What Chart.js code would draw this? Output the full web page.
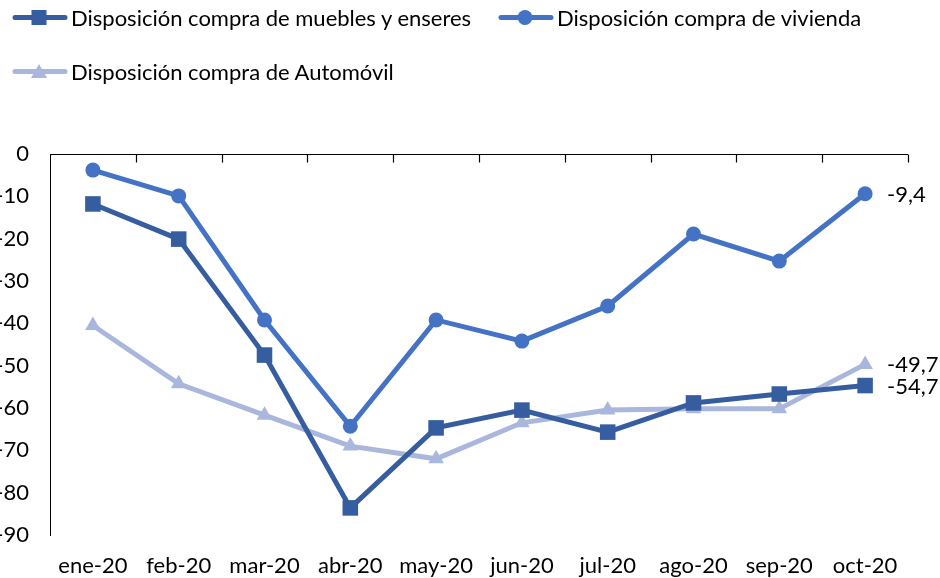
<!DOCTYPE html>
<html lang="es">
<head>
    <meta charset="UTF-8">
    <title>Disposición de compra</title>
    <script src="https://cdn.jsdelivr.net/npm/chart.js"></script>
    <style>
        body {
            margin: 0;
            font-family: Lato, sans-serif;
            background: #fff;
        }
        #wrap {
            position: relative;
            width: 940px;
            height: 578px;
        }
        #legend {
            position: absolute;
            left: 0;
            top: 0;
            width: 940px;
        }
        .item {
            position: absolute;
            display: flex;
            align-items: center;
            font-size: 22px;
            color: #000;
            white-space: nowrap;
        }
        .item svg {
            margin-right: 3px;
        }
    </style>
</head>
<body>
<div id="wrap">
    <canvas id="chart" width="940" height="578"></canvas>
    <div id="legend"></div>
</div>

<script>
    const categories = ["ene-20", "feb-20", "mar-20", "abr-20", "may-20", "jun-20", "jul-20", "ago-20", "sep-20", "oct-20"];
    const seriesNames = ["Disposición compra de muebles y enseres", "Disposición compra de vivienda", "Disposición compra de Automóvil"];
    const muebles = [-11.8, -20.1, -47.5, -83.6, -64.7, -60.5, -65.7, -58.8, -56.7, -54.7];
    const vivienda = [-3.8, -9.9, -39.2, -64.3, -39.2, -44.2, -35.9, -18.9, -25.3, -9.4];
    const automovil = [-40.5, -54.3, -61.7, -69.0, -72.0, -63.5, -60.5, -60.2, -60.2, -49.7];
    const yTicks = [0, -10, -20, -30, -40, -50, -60, -70, -80, -90];

    const colors = ["#365DA0", "#4472C4", "#A9B7DC"];
    const markers = ["rect", "circle", "triangle"];
    const radii = [11, 7.5, 9];
    const legendPos = [[12, 4], [498, 4], [12, 58]];

    // legend (HTML, line + marker icons)
    function iconSvg(i) {
        let c = colors[i];
        let mark;
        if (markers[i] === "rect") mark = `<rect x="19.5" y="3" width="15" height="15" fill="${c}"/>`;
        else if (markers[i] === "circle") mark = `<circle cx="27" cy="10.5" r="7.5" fill="${c}"/>`;
        else mark = `<polygon points="27,3 35,17 19,17" fill="${c}"/>`;
        return `<svg width="56" height="21"><line x1="3" y1="10.5" x2="53" y2="10.5" stroke="${c}" stroke-width="5" stroke-linecap="round"/>${mark}</svg>`;
    }
    let legend = document.getElementById("legend");
    seriesNames.forEach((name, i) => {
        let d = document.createElement("div");
        d.className = "item";
        d.style.left = legendPos[i][0] + "px";
        d.style.top = legendPos[i][1] + "px";
        d.innerHTML = iconSvg(i) + "<span>" + name + "</span>";
        legend.appendChild(d);
    });

    // top axis line at 0 with tick marks between categories
    const topAxis = {
        id: "topAxis",
        afterDraw(chart) {
            let ctx = chart.ctx;
            let x = chart.scales.x;
            let y = chart.scales.y;
            let y0 = Math.round(y.getPixelForValue(0)) + 0.5;
            let step = x.getPixelForValue(1) - x.getPixelForValue(0);
            ctx.save();
            ctx.strokeStyle = "#000";
            ctx.lineWidth = 1.2;
            ctx.beginPath();
            ctx.moveTo(chart.chartArea.left, y0);
            ctx.lineTo(chart.chartArea.right, y0);
            for (let i = 0; i < categories.length; i++) {
                let bx = Math.round(x.getPixelForValue(i) + step / 2) + 0.5;
                ctx.moveTo(bx, y0);
                ctx.lineTo(bx, y0 + 8);
            }
            ctx.stroke();
            ctx.restore();
        }
    };

    // value labels on the last point of each series
    const endLabels = {
        id: "endLabels",
        afterDatasetsDraw(chart) {
            let ctx = chart.ctx;
            ctx.save();
            ctx.font = "22px Lato";
            ctx.fillStyle = "#000";
            ctx.textAlign = "left";
            ctx.textBaseline = "middle";
            chart.data.datasets.forEach((ds, i) => {
                let meta = chart.getDatasetMeta(i);
                let last = meta.data[meta.data.length - 1];
                let v = ds.data[ds.data.length - 1];
                ctx.fillText(v.toFixed(1).replace(".", ","), last.x + 22, last.y + 1);
            });
            ctx.restore();
        }
    };

    const seriesData = [muebles, vivienda, automovil];

    new Chart(document.getElementById("chart"), {
        type: "line",
        data: {
            labels: categories,
            datasets: seriesData.map((d, i) => ({
                label: seriesNames[i],
                data: d,
                borderColor: colors[i],
                backgroundColor: colors[i],
                borderWidth: 5,
                pointStyle: markers[i],
                pointRadius: radii[i],
                pointBorderWidth: 0,
                tension: 0
            }))
        },
        options: {
            responsive: false,
            animation: false,
            layout: { padding: { top: 154, right: 32, left: 0, bottom: 0 } },
            plugins: {
                legend: { display: false },
                tooltip: { enabled: false }
            },
            scales: {
                x: {
                    offset: true,
                    grid: { display: false, drawTicks: false },
                    border: { display: false },
                    ticks: {
                        color: "#000",
                        font: { family: "Lato", size: 22 },
                        padding: 18,
                        maxRotation: 0,
                        autoSkip: false
                    },
                    afterFit(scale) { scale.height = 43; }
                },
                y: {
                    min: -90,
                    max: 0,
                    afterBuildTicks(scale) { scale.ticks = yTicks.map(v => ({ value: v })); },
                    grid: { display: false, drawTicks: false },
                    border: { display: true, color: "#000", width: 1 },
                    ticks: {
                        color: "#000",
                        font: { family: "Lato", size: 22 },
                        padding: 21
                    },
                    afterFit(scale) { scale.width = 50; }
                }
            }
        },
        plugins: [topAxis, endLabels]
    });
</script>
</body>
</html>
